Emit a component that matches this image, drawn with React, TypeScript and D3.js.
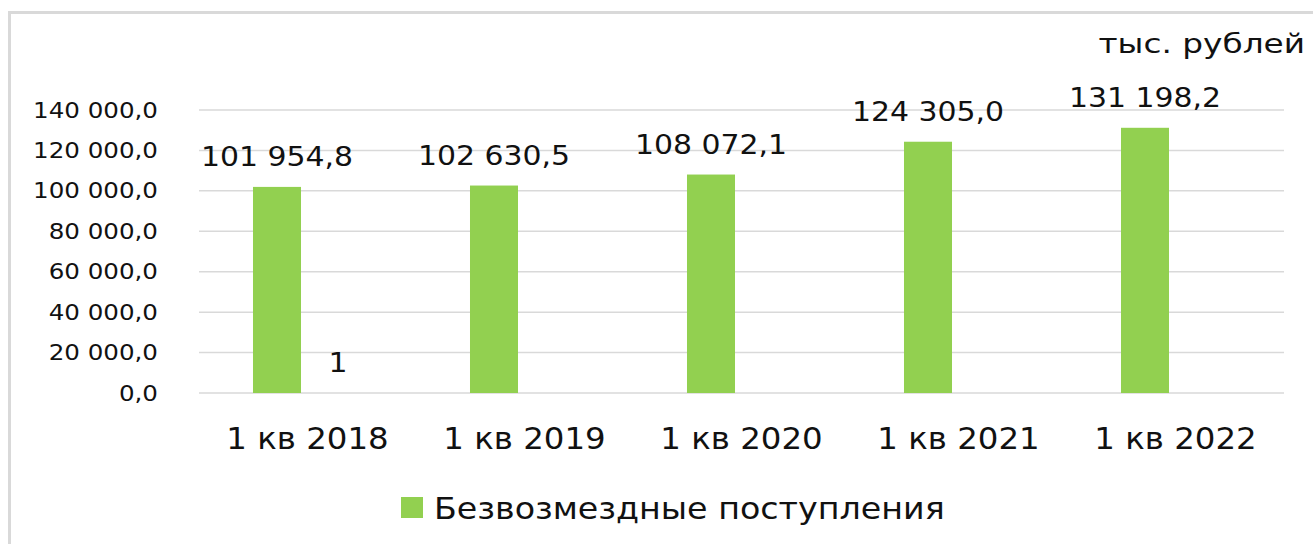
import React from "react";
import * as d3 from "d3";

const categories = ["1 кв 2018", "1 кв 2019", "1 кв 2020", "1 кв 2021", "1 кв 2022"];
const seriesMain = [101954.8, 102630.5, 108072.1, 124305.0, 131198.2];
const seriesMainLabels = ["101 954,8", "102 630,5", "108 072,1", "124 305,0", "131 198,2"];
const seriesExtra = [1, null, null, null, null];
const seriesExtraLabels = ["1", "", "", "", ""];
const yTicks = [0, 20000, 40000, 60000, 80000, 100000, 120000, 140000];
const yTickLabels = ["0,0", "20 000,0", "40 000,0", "60 000,0", "80 000,0", "100 000,0", "120 000,0", "140 000,0"];
const legendLabel = "Безвозмездные поступления";
const unitLabel = "тыс. рублей";

const W = 1313;
const H = 544;
const FONT = "'DejaVu Sans', sans-serif";
const GREEN = "#92d050";
const GRID = "#d9d9d9";
const TEXT = "#111111";

export default function App() {
  const plotL = 199;
  const plotR = 1284;
  const y = d3.scaleLinear().domain([0, 140000]).range([393, 110]);
  const x = d3.scaleBand<string>().domain(categories).range([plotL, plotR]).paddingInner(0).paddingOuter(0);
  const inner = d3
    .scaleBand<string>()
    .domain(["main", "extra"])
    .range([0, x.bandwidth()])
    .paddingInner(0.213)
    .paddingOuter(0.885);

  const st = (sx: number, tx: number, ty: number) => `translate(${tx},${ty}) scale(${sx},1)`;

  return (
    <svg width={W} height={H} style={{ position: "absolute", left: 0, top: 0, background: "#fff" }}>
      <rect x={9.5} y={12.5} width={W + 20} height={H + 20} fill="#fff" stroke={GRID} strokeWidth={3} />
      {yTicks.map((t, i) => (
        <g key={"g" + i}>
          <line x1={plotL} x2={plotR} y1={y(t)} y2={y(t)} stroke={GRID} strokeWidth={1.5} />
          <text
            transform={st(1.17, 158, y(t) + 7.5)}
            textAnchor="end"
            fontFamily={FONT}
            fontSize={21}
            fill={TEXT}
          >
            {yTickLabels[i]}
          </text>
        </g>
      ))}
      {categories.map((c, i) => {
        const bx = (x(c) as number) + (inner("main") as number);
        const bx2 = (x(c) as number) + (inner("extra") as number);
        const v = seriesMain[i];
        const v2 = seriesExtra[i];
        return (
          <g key={c}>
            <rect x={bx} y={y(v)} width={inner.bandwidth()} height={y(0) - y(v)} fill={GREEN} />
            <text
              transform={st(1.15, bx + inner.bandwidth() / 2, y(v) - 21)}
              textAnchor="middle"
              fontFamily={FONT}
              fontSize={26}
              fill={TEXT}
            >
              {seriesMainLabels[i]}
            </text>
            {v2 != null && (
              <>
                <rect x={bx2} y={y(v2)} width={inner.bandwidth()} height={y(0) - y(v2)} fill={GREEN} />
                <text
                  transform={st(1.15, bx2 + inner.bandwidth() / 2, y(v2) - 21)}
                  textAnchor="middle"
                  fontFamily={FONT}
                  fontSize={26}
                  fill={TEXT}
                >
                  {seriesExtraLabels[i]}
                </text>
              </>
            )}
            <text
              transform={st(1.08, (x(c) as number) + x.bandwidth() / 2, 449)}
              textAnchor="middle"
              fontFamily={FONT}
              fontSize={30}
              fill={TEXT}
            >
              {c}
            </text>
          </g>
        );
      })}
      <text transform={st(1.26, 1305, 53)} textAnchor="end" fontFamily={FONT} fontSize={26} fill={TEXT}>
        {unitLabel}
      </text>
      <rect x={401} y={497} width={22} height={21} fill={GREEN} />
      <text transform={st(1.11, 434, 519)} fontFamily={FONT} fontSize={30} fill={TEXT}>
        {legendLabel}
      </text>
    </svg>
  );
}
